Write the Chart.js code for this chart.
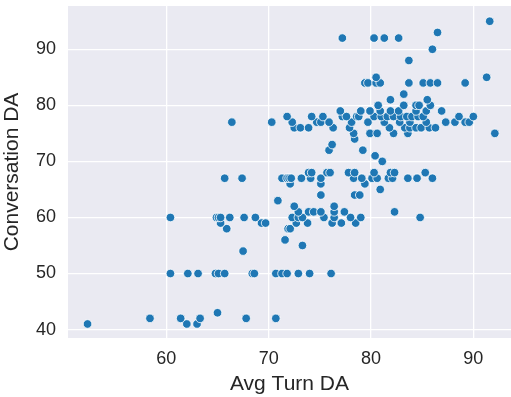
<!DOCTYPE html>
<html>
<head>
<meta charset="utf-8">
<script src="https://cdn.jsdelivr.net/npm/chart.js@4"></script>
<style>
  html, body { margin: 0; padding: 0; background: #fff; overflow: hidden; }
  #wrap { width: 511px; height: 397px; position: relative; }
  #wrap canvas { display: block; }
</style>
</head>
<body>
<div id="wrap"><canvas id="cv"></canvas></div>
<script>
const xTitle = "Avg Turn DA";
const yTitle = "Conversation DA";
const xTicks = [60, 70, 80, 90];
const yTicks = [40, 50, 60, 70, 80, 90];

// points (conversation DA is whole numbers)
const turnDA = [
  52.3, 62.0, 63.0,
  58.4, 61.4, 63.3, 67.8, 70.7,
  65.0,
  60.4, 62.1, 63.1, 64.8, 65.1, 65.7, 68.4, 68.6, 70.7, 71.3, 71.8, 72.9, 74.0, 76.1,
  67.5,
  73.3,
  71.6,
  65.9, 71.9, 72.1,
  65.3, 69.3, 69.7, 72.7, 73.8, 76.2, 77.1, 78.5,
  60.4, 64.9, 65.1, 65.3, 66.2, 67.6, 68.7, 72.3, 72.9, 73.3, 75.4, 76.4, 78.0, 79.0, 84.8,
  72.9, 73.9, 74.4, 75.1, 76.4, 77.4, 82.3,
  72.5, 76.4,
  70.9,
  75.1, 78.4, 78.9,
  80.9,
  72.1, 75.1, 79.4,
  65.7, 67.4, 71.3, 71.8, 72.0, 72.2, 73.2, 74.1, 75.1, 78.3, 79.1, 80.1, 80.6, 81.7, 82.1, 83.6, 84.5, 86.0,
  73.9, 74.2, 75.7, 76.0, 77.8, 78.4, 80.3, 81.9, 82.3, 85.3,
  81.1,
  80.4,
  75.9, 79.2,
  76.2,
  78.4,
  78.3, 79.9, 80.6, 82.2, 83.6, 92.1,
  72.5, 73.1, 73.9, 76.3, 77.9, 81.8, 83.3, 83.8, 84.4, 84.9, 85.7, 86.3,
  66.4, 70.3, 72.3, 74.7, 75.1, 75.9, 78.1, 79.7, 81.3, 82.8, 83.8, 85.4, 87.3, 88.2, 89.2, 89.6,
  71.8, 74.2, 75.3, 77.2, 77.6, 78.6, 78.8, 80.3, 81.0, 81.6, 82.2, 82.9, 83.5, 84.0, 84.6, 85.1, 88.6, 90.0,
  77.0, 79.0, 79.9, 80.9, 81.9, 82.7, 84.4, 85.4, 86.9,
  80.7, 83.2, 84.4, 84.7, 85.8,
  81.9, 85.5,
  83.2,
  79.4, 79.7, 80.5, 80.9, 83.7, 85.1, 85.8, 86.5, 89.2,
  80.5, 91.3,
  83.7,
  86.0,
  77.2, 80.3, 81.3, 82.7,
  86.5,
  91.6
];
const convDA = [
  41, 41, 41,
  42, 42, 42, 42, 42,
  43,
  50, 50, 50, 50, 50, 50, 50, 50, 50, 50, 50, 50, 50, 50,
  54,
  55,
  56,
  58, 58, 58,
  59, 59, 59, 59, 59, 59, 59, 59,
  60, 60, 60, 60, 60, 60, 60, 60, 60, 60, 60, 60, 60, 60, 60,
  61, 61, 61, 61, 61, 61, 61,
  62, 62,
  63,
  64, 64, 64,
  65,
  66, 66, 66,
  67, 67, 67, 67, 67, 67, 67, 67, 67, 67, 67, 67, 67, 67, 67, 67, 67, 67,
  68, 68, 68, 68, 68, 68, 68, 68, 68, 68,
  70,
  71,
  72, 72,
  73,
  74,
  75, 75, 75, 75, 75, 75,
  76, 76, 76, 76, 76, 76, 76, 76, 76, 76, 76, 76,
  77, 77, 77, 77, 77, 77, 77, 77, 77, 77, 77, 77, 77, 77, 77, 77,
  78, 78, 78, 78, 78, 78, 78, 78, 78, 78, 78, 78, 78, 78, 78, 78, 78, 78,
  79, 79, 79, 79, 79, 79, 79, 79, 79,
  80, 80, 80, 80, 80,
  81, 81,
  82,
  84, 84, 84, 84, 84, 84, 84, 84, 84,
  85, 85,
  88,
  90,
  92, 92, 92, 92,
  93,
  95
];

const font = "'Liberation Sans', Arial, sans-serif";
const ink = "#262626";

// seaborn darkgrid background behind the plot area
const plotBg = {
  id: "plotBg",
  beforeDraw(chart) {
    const a = chart.chartArea, c = chart.ctx;
    c.save();
    c.fillStyle = "#eaeaf2";
    c.fillRect(a.left, a.top, a.right - a.left, a.bottom - a.top);
    c.restore();
  }
};

// no extra room for overhanging tick labels
function noPad(ax) {
  ax.paddingTop = 0;
  ax.paddingBottom = 0;
  ax.paddingLeft = 0;
  ax.paddingRight = 0;
}

new Chart(document.getElementById("cv"), {
  type: "scatter",
  data: {
    datasets: [{
      data: turnDA.map((x, i) => ({ x, y: convDA[i] })),
      backgroundColor: "#1f77b4",
      borderColor: "#ffffff",
      borderWidth: 0.8,
      pointRadius: 4.3,
      pointHoverRadius: 4.3
    }]
  },
  options: {
    responsive: true,
    maintainAspectRatio: false,
    animation: false,
    events: [],
    layout: { autoPadding: false, padding: { top: 6, right: 0, left: 0, bottom: 0 } },
    plugins: { legend: { display: false }, tooltip: { enabled: false } },
    scales: {
      x: {
        type: "linear",
        min: 50.39, max: 93.68,
        afterBuildTicks: (ax) => { ax.ticks = xTicks.map(v => ({ value: v })); },
        afterFit: (ax) => { ax.height = 59; noPad(ax); },
        border: { display: false },
        grid: { color: "#ffffff", lineWidth: 1.3, drawTicks: false },
        ticks: { color: ink, font: { family: font, size: 18 }, padding: 10 },
        title: { display: true, text: xTitle, color: ink, font: { family: font, size: 21 }, padding: { top: 2, bottom: 0 } }
      },
      y: {
        type: "linear",
        min: 38.5, max: 97.72,
        afterBuildTicks: (ax) => { ax.ticks = yTicks.map(v => ({ value: v })); },
        afterFit: (ax) => { ax.width = 68; noPad(ax); },
        border: { display: false },
        grid: { color: "#ffffff", lineWidth: 1.3, drawTicks: false },
        ticks: { color: ink, font: { family: font, size: 18 }, padding: 12 },
        title: { display: true, text: yTitle, color: ink, font: { family: font, size: 21 }, padding: { top: 0, bottom: 4 } }
      }
    }
  },
  plugins: [plotBg]
});
</script>
</body>
</html>
